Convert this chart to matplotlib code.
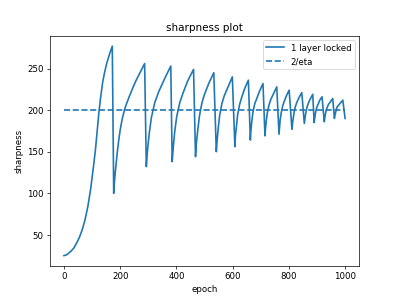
import matplotlib
matplotlib.use('Agg')
import matplotlib.pyplot as plt

# sharpness readings (epoch, value)
epochs = [0, 10, 24, 35, 45, 55, 65, 75, 85, 95, 105, 112, 117, 124, 130, 138, 145, 152, 160, 166, 172,
          177, 180, 183, 186, 190, 195, 200, 207, 215, 223, 232, 244, 257, 272, 287,
          293, 297, 303, 311, 323, 337, 357, 380,
          385, 389, 394, 401, 412, 423, 440, 461,
          468, 471, 476, 482, 491, 500, 515, 533,
          542, 545, 549, 554, 562, 570, 584, 599,
          608, 610, 614, 618, 625, 632, 643, 656,
          663, 665, 668, 672, 679, 686, 696, 708,
          715, 717, 720, 724, 730, 736, 746, 757,
          765, 767, 769, 773, 778, 783, 791, 801,
          811, 813, 816, 819, 823, 828, 836, 846,
          855, 857, 859, 862, 866, 870, 877, 885,
          890, 892, 894, 897, 900, 904, 910, 918,
          926, 928, 930, 933, 936, 941, 948, 956,
          962, 964, 966, 969, 972, 977, 984, 992,
          1000]
sharpness = [25, 26, 30, 34, 40, 47, 56, 68, 84, 105, 132, 152, 170, 196, 214, 234, 246, 256, 265, 271, 277,
             100, 115, 127, 137, 150, 164, 176, 189, 200, 208, 216, 226, 236, 246, 256,
             132, 151, 171, 191, 209, 222, 237, 253,
             138, 156, 174, 192, 209, 220, 235, 249,
             144, 160, 176, 193, 209, 219, 232, 245,
             150, 164, 179, 194, 208, 217, 228, 240,
             156, 169, 182, 195, 207, 215, 226, 236,
             164, 175, 186, 197, 208, 214, 223, 232,
             169, 178, 188, 198, 207, 213, 220, 228,
             171, 179, 188, 197, 205, 210, 217, 224,
             177, 184, 191, 198, 204, 209, 215, 221,
             184, 189, 194, 200, 205, 209, 214, 219,
             185, 190, 195, 200, 204, 207, 212, 216,
             186, 191, 195, 200, 203, 207, 210, 214,
             190, 194, 197, 201, 204, 206, 209, 212,
             190]

# 2/eta reference level
eta_epochs = [0, 1000]
eta_level = [200, 200]

plt.figure(figsize=(6.4, 4.8), dpi=62.35)
plt.title('sharpness plot')
plt.xlabel('epoch')
plt.ylabel('sharpness')
plt.plot(epochs, sharpness, color='tab:blue', linewidth=1.9, label='1 layer locked')
plt.plot(eta_epochs, eta_level, color='tab:blue', linewidth=1.9, linestyle='--', label='2/eta')
plt.legend(loc='upper right')
plt.savefig('out.png', dpi=62.35)
